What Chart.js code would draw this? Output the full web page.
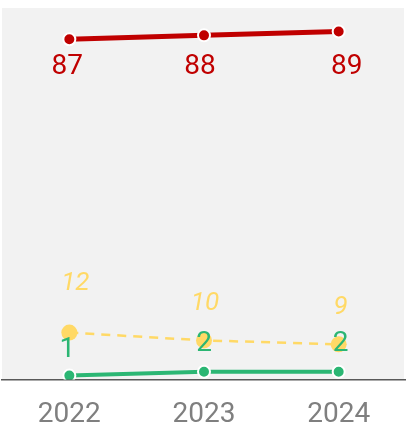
<!DOCTYPE html>
<html>
<head>
<meta charset="utf-8">
<script src="https://cdn.jsdelivr.net/npm/chart.js@4/dist/chart.umd.min.js"></script>
<style>
  html, body { margin: 0; padding: 0; background: #ffffff; }
  #trend { display: block; }
</style>
</head>
<body>
<canvas id="trend" width="406" height="430"></canvas>
<script>
// Data

const years = ["2022", "2023", "2024"];
const redValues = [87, 88, 89];
const yellowValues = [12, 10, 9];
const greenValues = [1, 2, 2];

const RED = "#c00000";
const YELLOW = "#ffd966";
const GREEN = "#2bb673";

// Grey plot background

const plotBackground = {
  id: "plotBackground",
  beforeDraw(chart) {
    const { ctx, chartArea } = chart;
    ctx.save();
    ctx.fillStyle = "#f2f2f2";
    ctx.fillRect(chartArea.left, chartArea.top, chartArea.width - 2, chartArea.height);
    ctx.restore();
  },
};

// Value labels next to each point

const pointLabels = {
  id: "pointLabels",
  afterDatasetsDraw(chart) {
    const { ctx } = chart;
    chart.data.datasets.forEach((ds, di) => {
      const cfg = ds.valueLabel;
      const meta = chart.getDatasetMeta(di);
      ctx.save();
      ctx.fillStyle = cfg.color;
      ctx.font = cfg.font;
      ctx.textAlign = "center";
      ctx.textBaseline = "middle";
      meta.data.forEach((pt, i) => {
        ctx.fillText(String(ds.data[i]), pt.x + cfg.dx[i], pt.y + cfg.dy[i]);
      });
      ctx.restore();
    });
  },
};

new Chart(document.getElementById("trend"), {
  type: "line",
  data: {
    labels: years,
    datasets: [{
      label: "red",
      data: redValues,
      borderColor: RED,
      borderWidth: 5,
      pointRadius: 6,
      pointBackgroundColor: RED,
      pointBorderColor: "#ffffff",
      pointBorderWidth: 2,
      order: 3,
      valueLabel: { color: RED, font: "28px Roboto", dx: [-2, -4, 8], dy: [28, 32, 36] },
    }, {
      label: "yellow",
      data: yellowValues,
      borderColor: YELLOW,
      borderWidth: 2.5,
      borderDash: [9, 7],
      pointRadius: 8,
      pointBackgroundColor: YELLOW,
      pointBorderColor: YELLOW,
      pointBorderWidth: 0,
      order: 2,
      valueLabel: { color: YELLOW, font: "italic 26px Roboto", dx: [6, 1, 2], dy: [-49, -37, -37] },
    }, {
      label: "green",
      data: greenValues,
      borderColor: GREEN,
      borderWidth: 4,
      pointRadius: 6,
      pointBackgroundColor: GREEN,
      pointBorderColor: "#ffffff",
      pointBorderWidth: 2,
      order: 1,
      valueLabel: { color: GREEN, font: "28px Roboto", dx: [-2, 0, 2], dy: [-26, -28, -28] },
    }],
  },
  options: {
    responsive: false,
    animation: false,
    layout: {
      autoPadding: false,
      padding: { top: 8, left: 2, right: 0, bottom: 0 },
    },
    plugins: {
      legend: { display: false },
      tooltip: { enabled: false },
    },
    scales: {
      x: {
        offset: true,
        grid: {
          display: false,
          drawTicks: false,
        },
        border: {
          display: true,
          color: "#595959",
          width: 1.5,
        },
        ticks: {
          color: "#7f7f7f",
          padding: 21,
          maxRotation: 0,
          minRotation: 0,
          font: { family: "Roboto", size: 28, lineHeight: 1 },
        },
        // keep the axis band fixed and let the plot use the full width
        afterFit(scale) {
          scale.height = 50.5;
          scale.paddingLeft = 0;
          scale.paddingRight = 0;
        },
      },
      y: {
        display: false,
        min: 0,
        max: 95,
      },
    },
  },
  plugins: [plotBackground, pointLabels],
});
</script>
</body>
</html>
